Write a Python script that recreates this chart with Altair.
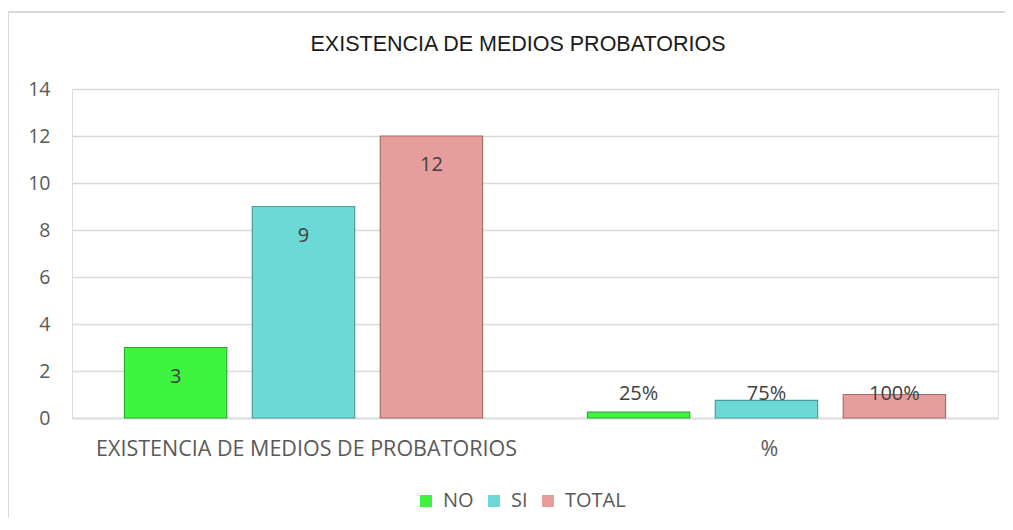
import altair as alt
import pandas as pd

title_text = "EXISTENCIA DE MEDIOS PROBATORIOS"
groups = ["EXISTENCIA DE MEDIOS DE PROBATORIOS", "%"]
series = ["NO", "SI", "TOTAL"]
counts = [3, 9, 12]
percents = [0.25, 0.75, 1.0]
percent_labels = ["25%", "75%", "100%"]
y_ticks = [0, 2, 4, 6, 8, 10, 12, 14]
fill_colors = ["#3EF43E", "#6DD9D6", "#E59E9B"]
edge_colors = ["#2AAE2A", "#4A9D9B", "#A56E6C"]

rows = []
for s, v in zip(series, counts):
    rows.append({"group": groups[0], "series": s, "value": v, "label": str(v)})
for s, v, l in zip(series, percents, percent_labels):
    rows.append({"group": groups[1], "series": s, "value": v, "label": l})
df = pd.DataFrame(rows)

W, H = 926, 329
FONT = "Open Sans"

x_enc = alt.X("group:N", sort=groups,
              scale=alt.Scale(paddingInner=0, paddingOuter=0),
              axis=alt.Axis(title=None, labelAngle=0, ticks=False,
                            domainColor="#D9D9D9", domainWidth=1.5, labelLimit=0,
                            labelPadding=20, labelFontSize=21.5, labelFont=FONT,
                            labelColor="#595959", labelOffset=3))
xoff = alt.XOffset("series:N", sort=series,
                   scale=alt.Scale(paddingInner=0.2, paddingOuter=0.41))
y_scale = alt.Scale(domain=[0, 14], nice=False)

base = alt.Chart(df)

bars = base.mark_bar(strokeWidth=1.2).encode(
    x=x_enc,
    xOffset=xoff,
    y=alt.Y("value:Q", scale=y_scale,
            axis=alt.Axis(title=None, values=y_ticks, domain=False, ticks=False,
                          gridColor="#D9D9D9", gridWidth=1.5, labelPadding=22,
                          labelFontSize=19.5, labelFont=FONT, labelColor="#595959")),
    color=alt.Color("series:N", sort=series,
                    scale=alt.Scale(domain=series, range=fill_colors),
                    legend=alt.Legend(title=None, orient="none", direction="horizontal",
                                      legendX=344, legendY=402, symbolType="square",
                                      symbolSize=144, symbolStrokeWidth=0,
                                      labelFontSize=20, labelFont=FONT,
                                      labelColor="#595959", columnPadding=10,
                                      symbolOpacity=1, labelOffset=7)),
    stroke=alt.Stroke("series:N", sort=series,
                      scale=alt.Scale(domain=series, range=edge_colors), legend=None),
)

count_text = base.transform_filter(alt.datum.group == groups[0]).mark_text(
    baseline="middle", dy=29, fontSize=20, font=FONT, color="#404040"
).encode(x=alt.X("group:N", sort=groups), xOffset=xoff,
         y=alt.Y("value:Q", scale=y_scale), text="label:N")

pct_text = base.transform_filter(alt.datum.group == groups[1]).mark_text(
    baseline="middle", dy=-1, fontSize=20, font=FONT, color="#404040"
).encode(x=alt.X("group:N", sort=groups), xOffset=xoff,
         y=alt.datum(1.0), text="label:N")

frame = alt.Chart(pd.DataFrame({"t": [title_text]}))
left_border = frame.mark_rule(color="#D9D9D9", strokeWidth=2).encode(
    x=alt.value(-64), y=alt.value(-77), y2=alt.value(450))
top_border = frame.mark_rule(color="#D9D9D9", strokeWidth=2).encode(
    x=alt.value(-64), x2=alt.value(933), y=alt.value(-77))
title = frame.mark_text(font="Liberation Sans", fontSize=21.5, color="#1A1A1A",
                        baseline="alphabetic", align="center").encode(
    x=alt.value(446), y=alt.value(-38), text="t:N")

chart = alt.layer(left_border, top_border, bars, count_text, pct_text, title).properties(
    width=W, height=H,
    autosize=alt.AutoSizeParams(type="none"),
    padding={"left": 64, "top": 81, "right": 7, "bottom": 100},
).configure_view(stroke=None).configure(background="white")

chart.save("out.html", embed_options={"renderer": "svg", "actions": False})
